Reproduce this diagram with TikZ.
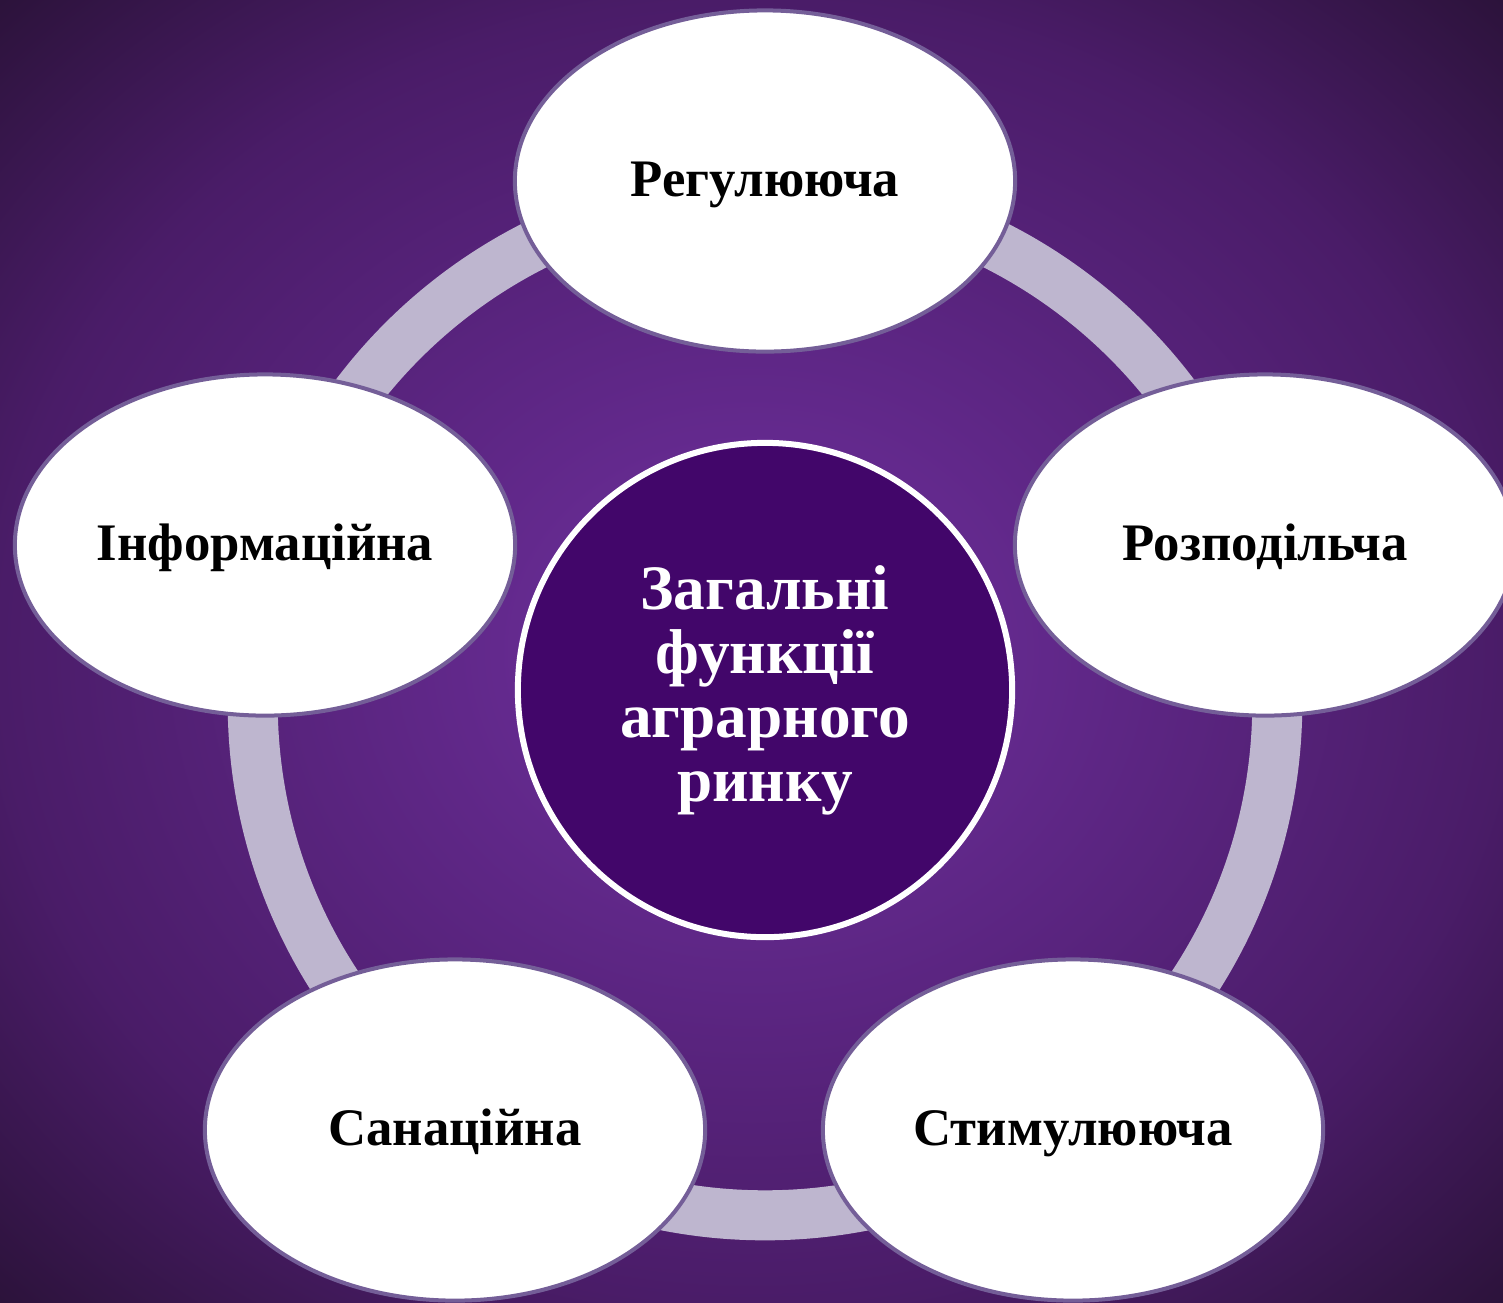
\documentclass[tikz,border=0pt]{standalone}
\usepackage{fontspec}
\setmainfont{Liberation Serif}
\usetikzlibrary{shapes.geometric}

\definecolor{bgmid}{HTML}{7030A0}
\definecolor{bgedge}{HTML}{4A1C68}
\definecolor{bgcorner}{HTML}{2A1238}
\definecolor{ringcol}{HTML}{BEB6CF}
\definecolor{ovalline}{HTML}{745E98}
\definecolor{hubfill}{HTML}{42066A}

\pgfdeclareradialshading{bgglow}{\pgfpoint{0bp}{0bp}}{%
  color(0bp)=(bgmid); color(25bp)=(bgedge); color(36bp)=(bgcorner); color(50bp)=(bgcorner)}

\begin{document}
\begin{tikzpicture}[x=0.01cm,y=-0.01cm,
  func/.style={shape=ellipse,draw=ovalline,line width=0.04cm,fill=white,
    minimum width=5cm,minimum height=3.41cm,inner sep=0pt,
    text height=12pt,text depth=3pt,
    font=\fontsize{15}{18}\selectfont\bfseries,text=black},
  hub/.style={shape=circle,draw=white,line width=0.06cm,fill=hubfill,
    minimum size=4.94cm,inner sep=0pt,align=center,
    font=\fontsize{18}{18.2}\selectfont\bfseries,text=white},
  ring/.style={draw=ringcol,line width=0.5cm}]
\useasboundingbox (0,0) rectangle (1503,1302);
\clip (0,0) rectangle (1503,1302);
\shade[shading=bgglow] (0,0) rectangle (1503,1302);

% ring behind the ovals
\coordinate (mid) at (765,703);
\draw[ring] (mid) circle (5.12cm);

\node[hub] (zag) at (765,690) {Загальні\\функції\\аграрного\\ринку};

\node[func] (reg) at (765,181) {Регулююча};
\node[func] (rozp) at (1265,545) {Розподільча};
\node[func] (stym) at (1073,1130) {Стимулююча};
\node[func] (san) at (455,1130) {Санаційна};
\node[func] (inf) at (265,545) {Інформаційна};
\end{tikzpicture}
\end{document}
